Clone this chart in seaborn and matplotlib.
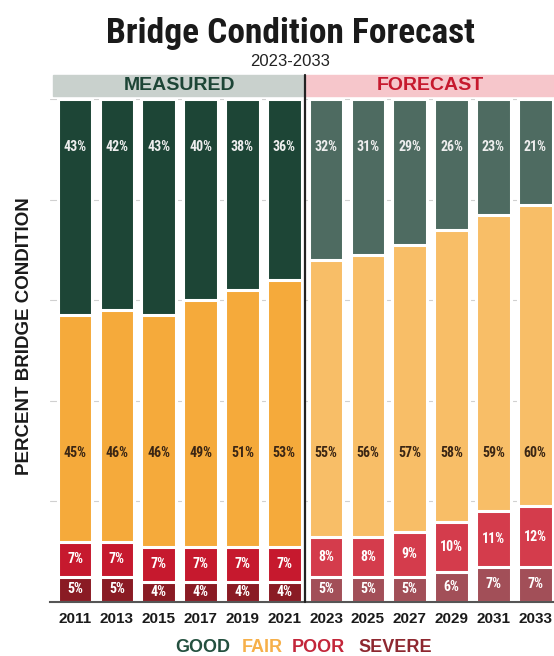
import pandas as pd
import matplotlib
matplotlib.use('Agg')
from matplotlib import pyplot as plt
from matplotlib.patches import Rectangle
import seaborn as sns

years = ['2011', '2013', '2015', '2017', '2019', '2021',
         '2023', '2025', '2027', '2029', '2031', '2033']
good = [43, 42, 43, 40, 38, 36, 32, 31, 29, 26, 23, 21]
fair = [45, 46, 46, 49, 51, 53, 55, 56, 57, 58, 59, 60]
poor = [7, 7, 7, 7, 7, 7, 8, 8, 9, 10, 11, 12]
severe = [5, 5, 4, 4, 4, 4, 5, 5, 5, 6, 7, 7]
n_measured = 6

# colores: medido / pronostico
colors = {
    'good': ('#1d4536', '#4e6b61'),
    'fair': ('#f5aa3b', '#f8be67'),
    'poor': ('#c6192e', '#d43c4c'),
    'severe': ('#8a1b24', '#a24f58'),
}
legend_colors = ['#24503f', '#f6b04a', '#c3263a', '#8e2830']

sns.set_style('white')
narrow = ['Roboto Condensed', 'Roboto', 'DejaVu Sans']
plt.rcParams['font.family'] = ['Liberation Sans', 'DejaVu Sans']

df = pd.DataFrame({'year': years, 'good': good, 'fair': fair,
                   'poor': poor, 'severe': severe})
df['c_severe'] = df['severe']
df['c_poor'] = df['c_severe'] + df['poor']
df['c_fair'] = df['c_poor'] + df['fair']
df['c_good'] = df['c_fair'] + df['good']

fig = plt.figure(figsize=(5.54, 6.56), dpi=100)
ax = fig.add_axes([50 / 554, 54 / 656, 504 / 554, 503 / 656])

for y in [20, 40, 60, 80, 100]:
    ax.axhline(y, color='#d0d0d0', lw=0.8, zorder=0)

n = len(years)
for layer in ['good', 'fair', 'poor', 'severe']:
    pal = [colors[layer][0]] * n_measured + [colors[layer][1]] * (n - n_measured)
    sns.barplot(data=df, x='year', y='c_' + layer, hue='year', order=years,
                hue_order=years, palette=pal, legend=False, width=0.83,
                edgecolor='white', linewidth=2.2, saturation=1, ax=ax,
                zorder=2)

# etiquetas
for i in range(n):
    kw = dict(ha='center', va='center', fontsize=10, fontweight='bold',
              family=narrow, zorder=5)
    ax.text(i, 90.5, f'{good[i]}%', color='#eeeeee', **kw)
    ax.text(i, 29.7, f'{fair[i]}%', color='#3b2614', **kw)
    ax.text(i, severe[i] + poor[i] / 2, f'{poor[i]}%', color='white', **kw)
    ax.text(i, severe[i] / 2, f'{severe[i]}%', color='white', **kw)

ax.set_xlim(-0.6, 11.45)
ax.set_ylim(0, 100)
ax.set_yticks([])
ax.set_xlabel('')
ax.set_ylabel('')
ax.set_xticks(range(n))
ax.set_xticklabels(years, fontsize=11, fontweight='bold', color='#1a1a1a')
ax.set_xticks([i - 0.5 for i in range(n)], minor=True)
ax.tick_params(axis='x', which='major', length=0, pad=7)
ax.tick_params(axis='x', which='minor', direction='in', length=8,
               width=1.2, color='#555555')
for s in ['left', 'right', 'top']:
    ax.spines[s].set_visible(False)
ax.spines['bottom'].set_color('#555555')
ax.spines['bottom'].set_linewidth(1.5)

# bandas de cabecera
ax.add_patch(Rectangle((-0.53, 100.6), 6.03, 4.2, color='#c9d1cd',
                       clip_on=False, zorder=1))
ax.add_patch(Rectangle((5.5, 100.6), 5.95, 4.2, color='#f6c6cb',
                       clip_on=False, zorder=1))
ax.text(2.5, 102.7, 'MEASURED', ha='center', va='center', fontsize=14,
        fontweight='bold', color='#1d4536')
ax.text(8.5, 102.7, 'FORECAST', ha='center', va='center', fontsize=14,
        fontweight='bold', color='#c6192e')
ax.plot([5.5, 5.5], [0, 104.8], color='#222222', lw=1.6, clip_on=False,
        zorder=6)

fig.text(290 / 554, 1 - 43 / 656, 'Bridge Condition Forecast', ha='center',
         va='baseline', fontsize=25.5, fontweight='heavy', family=narrow,
         color='#1a1a1a')
fig.text(290 / 554, 1 - 61 / 656, '2023-2033', ha='center', va='center',
         fontsize=12, color='#222222')
fig.text(25 / 554, 1 - 336 / 656, 'PERCENT BRIDGE CONDITION', rotation=90,
         ha='center', va='center', fontsize=13.5, fontweight='bold',
         color='#1a1a1a')

labels = ['GOOD', 'FAIR', 'POOR', 'SEVERE']
xs = [175, 242, 292, 358]
for lab, c, x in zip(labels, legend_colors, xs):
    fig.text(x / 554, 1 - 647 / 656, lab, ha='left', va='center',
             fontsize=13, fontweight='bold', color=c)

plt.savefig('out.png', dpi=100)
plt.close()
